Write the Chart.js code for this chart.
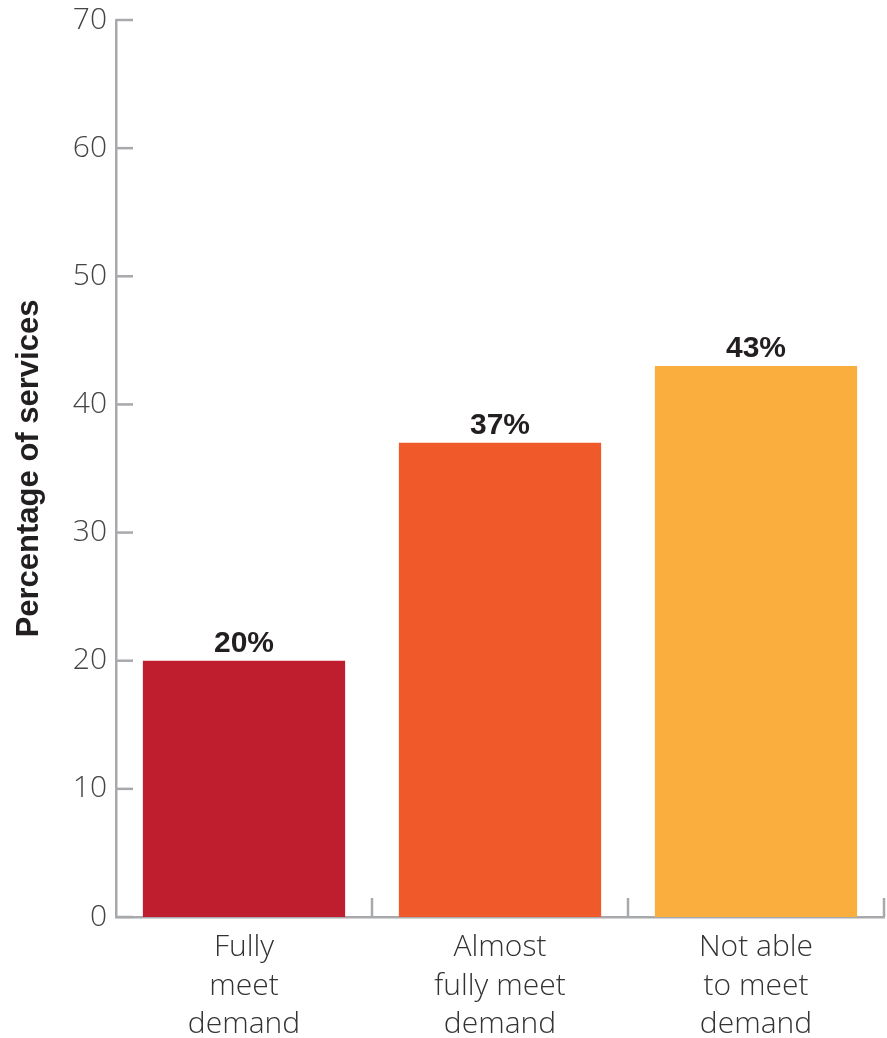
<!DOCTYPE html>
<html>
<head>
<meta charset="utf-8">
<script src="https://cdn.jsdelivr.net/npm/chart.js@4"></script>
<style>
  html, body { margin: 0; padding: 0; background: #fff; }
  #wrap { position: relative; width: 887px; height: 1038px; }
</style>
</head>
<body>
<div id="wrap"><canvas id="chart"></canvas></div>
<script>
// data
const categories = [["Fully", "meet", "demand"], ["Almost", "fully meet", "demand"], ["Not able", "to meet", "demand"]];
const shares = [20, 37, 43];
const barColors = ["#BE1E2D", "#F05A2A", "#FAAE3D"];
const yTicks = [0, 10, 20, 30, 40, 50, 60, 70];

const AXIS_GREY = "#A7A9AC";

// short tick marks drawn inside the plot, plus value labels above bars
const marksPlugin = {
    id: "marks",
    afterDatasetsDraw(chart) {
        const { ctx, chartArea } = chart;
        const x = chart.scales.x;
        const y = chart.scales.y;
        ctx.save();
        ctx.strokeStyle = AXIS_GREY;
        ctx.lineWidth = 2.5;
        yTicks.forEach((v) => {
            const py = y.getPixelForValue(v);
            ctx.beginPath();
            ctx.moveTo(chartArea.left, py);
            ctx.lineTo(chartArea.left + 17, py);
            ctx.stroke();
        });
        const n = categories.length;
        for (let i = 1; i <= n; i++) {
            const px = i < n
                ? (x.getPixelForValue(i - 1) + x.getPixelForValue(i)) / 2
                : chartArea.right;
            ctx.beginPath();
            ctx.moveTo(px, chartArea.bottom);
            ctx.lineTo(px, chartArea.bottom - 19);
            ctx.stroke();
        }

        const meta = chart.getDatasetMeta(0);
        ctx.fillStyle = "#231F20";
        ctx.font = "bold 30px 'Liberation Sans', Arial, sans-serif";
        ctx.textAlign = "center";
        ctx.textBaseline = "alphabetic";
        meta.data.forEach((bar, i) => {
            ctx.fillText(shares[i] + "%", bar.x, bar.y - 9);
        });
        ctx.restore();
    },
};

new Chart(document.getElementById("chart"), {
    type: "bar",
    data: {
        labels: categories,
        datasets: [
            {
                data: shares,
                backgroundColor: barColors,
                borderWidth: 0,
                barPercentage: 0.79,
                categoryPercentage: 1,
            },
        ],
    },
    options: {
        responsive: true,
        maintainAspectRatio: false,
        animation: false,
        layout: { padding: { top: 20, right: 3, left: 0, bottom: 0 } },
        plugins: {
            legend: { display: false },
            tooltip: { enabled: false },
        },
        scales: {
            x: {
                grid: { display: false, drawTicks: false },
                border: { color: AXIS_GREY, width: 2.5 },
                ticks: {
                    color: "#333",
                    padding: 11,
                    maxRotation: 0,
                    autoSkip: false,
                    font: { family: "Open Sans", weight: 300, size: 30, lineHeight: 1.29 },
                },
                afterFit(scale) {
                    scale.height = 121;
                    scale.paddingLeft = 0;
                    scale.paddingRight = 0;
                },
            },
            y: {
                min: 0,
                max: 70,
                grid: { display: false, drawTicks: false },
                border: { color: AXIS_GREY, width: 2.5 },
                afterBuildTicks(scale) { scale.ticks = yTicks.map((v) => ({ value: v })); },
                ticks: {
                    color: "#444",
                    padding: 9,
                    font: { family: "Open Sans", weight: 300, size: 30 },
                },
                title: {
                    display: true,
                    text: "Percentage of services",
                    color: "#231F20",
                    padding: { top: 11, bottom: 0 },
                    font: { family: "Liberation Sans", weight: "bold", size: 31 },
                },
                afterFit(scale) {
                    scale.width = 116;
                    scale.paddingTop = 0;
                    scale.paddingBottom = 0;
                },
            },
        },
    },
    plugins: [marksPlugin],
});
</script>
</body>
</html>
